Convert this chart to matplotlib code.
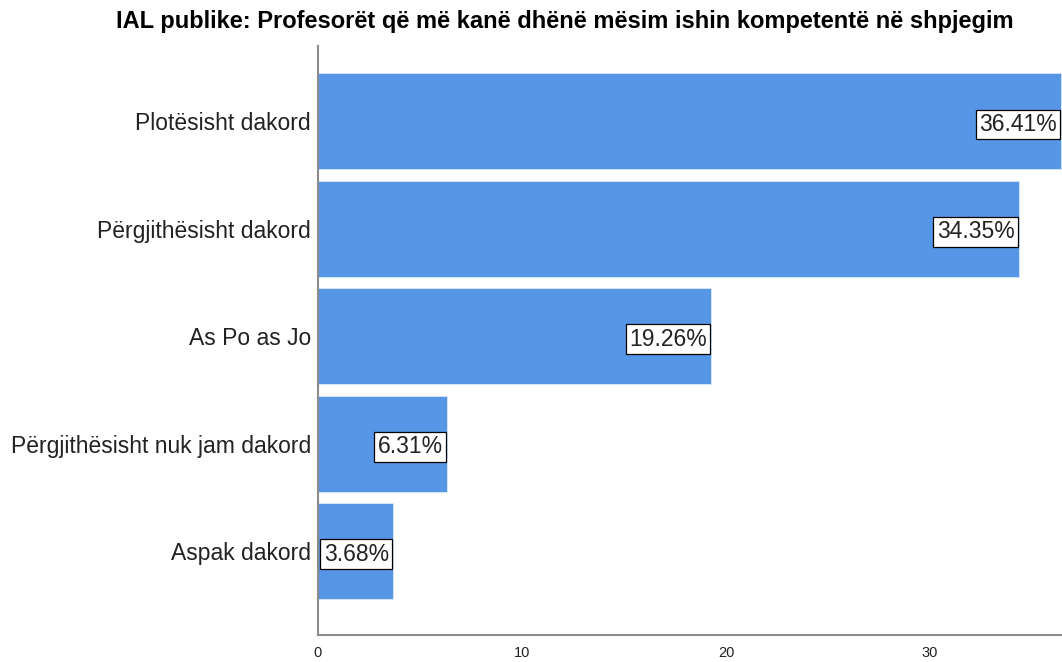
import matplotlib
matplotlib.use("Agg")
import matplotlib.pyplot as plt
import numpy as np

# data
categories = ['Plotësisht dakord', 'Përgjithësisht dakord', 'As Po as Jo',
              'Përgjithësisht nuk jam dakord', 'Aspak dakord']
percent = [36.41, 34.35, 19.26, 6.31, 3.68]
xticks = [0, 10, 20, 30]

plt.rcParams['font.family'] = ['Liberation Sans', 'DejaVu Sans']
txt = '#222222'

fig = plt.figure(figsize=(10.62, 6.62), dpi=100)
ax = fig.add_axes([0.2994, 0.0408, 0.7006, 0.8897])

y = np.arange(len(categories))
ax.barh(y, percent, height=0.895, color='#5596e6', edgecolor='#dce8f8', linewidth=0.6)

# value labels boxed at the end of each bar
for yi, v in zip(y, percent):
    ax.text(v - 0.2, yi + 0.03, f'{v:.2f}%', ha='right', va='center', fontsize=16.5, color=txt,
            bbox=dict(boxstyle='square,pad=0.15', facecolor='white', edgecolor='black', linewidth=0.9))

ax.set_yticks(y)
ax.set_yticklabels(categories, fontsize=16.5, color=txt)
ax.set_xticks(xticks)
ax.set_xticklabels([str(t) for t in xticks], fontsize=10.5, color=txt)
ax.tick_params(axis='both', length=0)
ax.tick_params(axis='x', pad=8)
ax.tick_params(axis='y', pad=5)

ax.set_xlim(0, 36.47)
ax.set_ylim(4.78, -0.70)

for s in ['top', 'right']:
    ax.spines[s].set_visible(False)
for s in ['left', 'bottom']:
    ax.spines[s].set_color('#8c8c8c')
    ax.spines[s].set_linewidth(1.5)

fig.text(0.532, 0.968, 'IAL publike: Profesorët që më kanë dhënë mësim ishin kompetentë në shpjegim',
         ha='center', va='center', fontsize=17, fontweight='bold', color='black')

fig.savefig('out.png', dpi=100)
